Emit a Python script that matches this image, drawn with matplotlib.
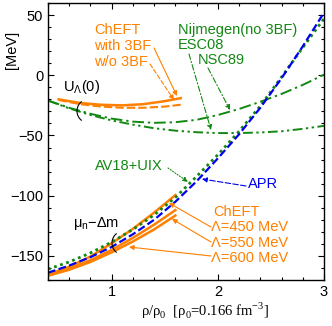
import numpy as np
import matplotlib
matplotlib.use("Agg")
import matplotlib.pyplot as plt
from matplotlib.ticker import MultipleLocator
from matplotlib.lines import Line2D
from matplotlib.transforms import IdentityTransform

plt.rcParams['font.family'] = ['Liberation Sans', 'DejaVu Sans']
plt.rcParams['font.size'] = 10.5

# ---------------- data ----------------
rho = [0.4, 0.6, 0.8, 1.0, 1.2, 1.4, 1.6, 1.8, 2.0, 2.2, 2.4, 2.6, 2.8, 3.0]
nsc89 = [-21, -27, -32, -36, -38.5, -39.5, -39, -37, -33, -28, -22, -15.5, -8, 0.5]
esc08 = [-21, -27.5, -33, -37.5, -41, -44, -46, -47.3, -48, -48, -47.5, -46.5, -44.5, -42]
apr = [-164, -158, -151, -142.5, -132, -120, -105, -88, -69, -49, -27, -2.5, 24, 52]
av18 = [-161, -155, -147.5, -138.5, -128, -116, -101.5, -84, -66, -46.5, -25.5, -1.5, 23, 47]

rho_U = [0.5, 0.7, 0.9, 1.1, 1.3, 1.5, 1.65]
U_chEFT_3bf = [-20, -23, -24.5, -25, -24, -21.5, -19]
U_chEFT_no3bf = [-20.5, -24, -26, -27, -27, -26, -24.5]

rho_chi = [0.4, 0.6, 0.8, 1.0, 1.2, 1.4, 1.6]
chi450 = [-165.5, -159, -150.5, -139.5, -127.5, -114, -99.5]
chi550 = [-166, -160.5, -153.5, -145, -135, -124, -112]
chi600 = [-166.5, -161.5, -155, -147, -138, -128, -116.5]

xticks = [1, 2, 3]
yticks = [-150, -100, -50, 0, 50]

ORANGE = '#ff8000'
GREEN = '#118811'
BLUE = '#0000ee'

W, H = 332, 326
fig = plt.figure(figsize=(W / 100, H / 100), dpi=100)
ax = fig.add_axes([48 / W, 1 - 280 / H, (324 - 48) / W, (280 - 3) / H])

ax.plot(rho, nsc89, color=GREEN, lw=1.4, dashes=(6, 2, 1.2, 2))
ax.plot(rho, esc08, color=GREEN, lw=1.4, dashes=(5, 1.8, 1.2, 1.8, 1.2, 1.8))
ax.plot(rho_U, U_chEFT_3bf, color=ORANGE, lw=1.8)
ax.plot(rho_U, U_chEFT_no3bf, color=ORANGE, lw=1.5, dashes=(4, 1.5))

ax.plot(rho_chi, chi450, color=ORANGE, lw=1.8)
ax.plot(rho_chi, chi550, color=ORANGE, lw=1.8)
ax.plot(rho_chi, chi600, color=ORANGE, lw=1.8)
ax.plot(rho, av18, color=GREEN, lw=2.0, dashes=(1, 1.3))
ax.plot(rho, apr, color=BLUE, lw=1.6, dashes=(3.5, 1.5))

ax.set_xlim(0.4, 3.0)
ax.set_ylim(-170, 60)
ax.set_xticks(xticks)
ax.set_yticks(yticks)
ax.xaxis.set_minor_locator(MultipleLocator(0.2))
ax.yaxis.set_minor_locator(MultipleLocator(10))
ax.tick_params(which='both', direction='in', top=True, right=True, width=0.8)
ax.tick_params(which='major', length=4.5, labelsize=10.5)
ax.tick_params(which='minor', length=2.5)
for s in ax.spines.values():
    s.set_linewidth(1.0)


def P(x, y):
    return (x / W, 1 - y / H)


def label(x, y, s, color='black', **kw):
    fig.text(*P(x, y), s, color=color, ha='left', va='center', fontsize=10.5, **kw)


label(94, 30, 'ChEFT', ORANGE)
label(94, 46, 'with 3BF', ORANGE)
label(94, 62, 'w/o 3BF', ORANGE)
label(63, 87, r'U$_\mathregular{Λ}$(0)')
label(178, 30, 'Nijmegen(no 3BF)', GREEN)
label(178, 45, 'ESC08', GREEN)
label(198, 60, 'NSC89', GREEN)
label(95, 166, 'AV18+UIX', GREEN)
label(248, 184, 'APR', BLUE)
label(213, 212, 'ChEFT', ORANGE)
label(211, 227, 'Λ=450 MeV', ORANGE)
label(211, 243, 'Λ=550 MeV', ORANGE)
label(211, 258, 'Λ=600 MeV', ORANGE)
label(73, 224, r'$\mathregular{μ_n}$−Δm')

fig.text(*P(205, 311), r'ρ/ρ$_\mathregular{0}$  [ρ$_\mathregular{0}$=0.166 fm$^\mathregular{−3}$]',
         ha='center', va='center', fontsize=10.5, family=['Liberation Serif', 'DejaVu Serif'])
fig.text(*P(12, 50), '[MeV]', rotation=90, ha='center', va='center', fontsize=10.5)


def arrow(x0, y0, x1, y1, color, ls='-'):
    ax.annotate('', xy=(x1, H - y1), xycoords='figure pixels',
                xytext=(x0, H - y0), textcoords='figure pixels',
                arrowprops=dict(arrowstyle='-|>', color=color, lw=0.8, linestyle=ls,
                                mutation_scale=7, shrinkA=0, shrinkB=0))


arrow(154, 48, 177, 96, ORANGE)
arrow(150, 64, 174, 100, ORANGE, (0, (4, 2)))
arrow(189, 54, 211, 130, GREEN, (0, (5, 2, 1, 2)))
arrow(208, 68, 230, 110, GREEN, (0, (5, 2, 1, 2)))
arrow(168, 168, 188, 182, GREEN, (0, (1, 1.5)))
arrow(246, 186, 202, 179, BLUE, (0, (5, 2)))
arrow(211, 227, 169, 203, ORANGE)
arrow(211, 242, 172, 219, ORANGE)
arrow(211, 256, 129, 247, ORANGE)

# brackets
for cx, cy in [(89, 111), (124, 243)]:
    th = np.radians(np.linspace(130, 230, 30))
    xs = cx + 12 * np.cos(th)
    ys = (H - cy) + 12 * np.sin(th)
    fig.add_artist(Line2D(xs, ys, transform=IdentityTransform(), color='black', lw=0.8))

fig.savefig('out.png', dpi=100)
